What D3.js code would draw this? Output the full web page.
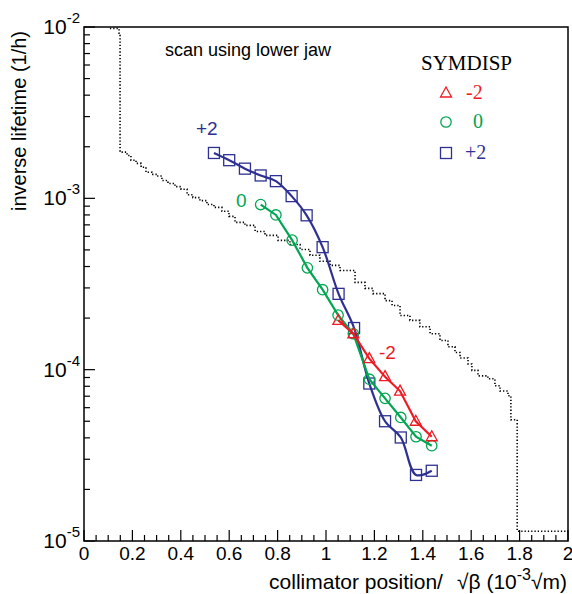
<!DOCTYPE html>
<html>
<head>
<meta charset="utf-8">
<script src="https://cdn.jsdelivr.net/npm/d3@7"></script>
<style>
  body { margin: 0; background: #fff; }
  svg text { font-family: "Liberation Sans", Arial, sans-serif; }
  svg text.serif { font-family: "Liberation Serif", "Times New Roman", serif; }
</style>
</head>
<body>
<div id="chart"></div>
<script>
// collimator position / sqrt(beta), 10^-3 sqrt(m)
const posMinus2 = [1.051, 1.113, 1.179, 1.244, 1.306, 1.371, 1.437];
const lifeMinus2 = [1.94e-4, 1.62e-4, 1.16e-4, 9.1e-5, 7.5e-5, 5.0e-5, 4.06e-5];

const posZero = [0.730, 0.793, 0.860, 0.923, 0.986, 1.050, 1.113, 1.179, 1.244, 1.309, 1.372, 1.437];
const lifeZero = [9.2e-4, 8.0e-4, 5.7e-4, 3.93e-4, 2.93e-4, 2.08e-4, 1.62e-4, 8.8e-5, 6.8e-5, 5.26e-5, 4.06e-5, 3.6e-5];

const posPlus2 = [0.537, 0.600, 0.665, 0.730, 0.793, 0.858, 0.920, 0.986, 1.052, 1.116, 1.179, 1.244, 1.309, 1.372, 1.437];
const lifePlus2 = [1.84e-3, 1.67e-3, 1.49e-3, 1.36e-3, 1.26e-3, 1.03e-3, 7.96e-4, 5.19e-4, 2.77e-4, 1.75e-4, 8.3e-5, 5.0e-5, 4.02e-5, 2.43e-5, 2.57e-5];

// dotted reference (step histogram)
const refPos = [0.107, 0.145, 0.149, 0.178, 0.194, 0.215, 0.236, 0.256, 0.281, 0.302, 0.322, 0.347,
  0.376, 0.401, 0.426, 0.450, 0.479, 0.508, 0.537, 0.570, 0.599, 0.624, 0.665, 0.707, 0.748,
  0.802, 0.851, 0.893, 0.934, 0.975, 1.017, 1.058, 1.120, 1.161, 1.194, 1.244, 1.273, 1.306,
  1.347, 1.388, 1.430, 1.471, 1.504, 1.533, 1.554, 1.587, 1.603, 1.628, 1.669, 1.698, 1.719,
  1.752, 1.764, 1.790, 2.0];
const refLife = [9.8e-3, 9.2e-3, 1.86e-3, 1.78e-3, 1.67e-3, 1.60e-3, 1.52e-3, 1.42e-3, 1.38e-3, 1.35e-3, 1.27e-3, 1.22e-3,
  1.17e-3, 1.13e-3, 1.05e-3, 1.01e-3, 9.7e-4, 9.2e-4, 8.85e-4, 8.4e-4, 7.85e-4, 7.24e-4, 6.95e-4, 6.41e-4, 6.08e-4,
  5.68e-4, 5.38e-4, 5.03e-4, 4.65e-4, 4.29e-4, 4.06e-4, 3.79e-4, 3.23e-4, 2.98e-4, 2.78e-4, 2.53e-4, 2.37e-4, 2.07e-4,
  1.94e-4, 1.78e-4, 1.62e-4, 1.48e-4, 1.36e-4, 1.26e-4, 1.17e-4, 1.08e-4, 9.9e-5, 9.2e-5, 8.85e-5, 8.05e-5, 7.5e-5,
  7.05e-5, 5.1e-5, 1.14e-5, 1.14e-5];

const xTicks = [0, 0.2, 0.4, 0.6, 0.8, 1, 1.2, 1.4, 1.6, 1.8, 2];
const xTickLabels = ["0", "0.2", "0.4", "0.6", "0.8", "1", "1.2", "1.4", "1.6", "1.8", "2"];
const yDecades = [1e-5, 1e-4, 1e-3, 1e-2];
const yExponents = ["-5", "-4", "-3", "-2"];

const W = 572, H = 594;
const mLeft = 84, mRight = 568, mTop = 27, mBottom = 541;

const svg = d3.select("#chart").append("svg")
  .attr("width", W).attr("height", H);

const x = d3.scaleLinear().domain([0, 2]).range([mLeft, mRight]);
const y = d3.scaleLog().domain([1e-5, 1e-2]).range([mBottom, mTop]);

// frame
svg.append("rect")
  .attr("x", mLeft).attr("y", mTop)
  .attr("width", mRight - mLeft).attr("height", mBottom - mTop)
  .attr("fill", "none").attr("stroke", "#000").attr("stroke-width", 1.5);

// x ticks (inward)
const xMinor = d3.range(0, 2.001, 0.05);
svg.append("g").selectAll("line").data(xMinor).join("line")
  .attr("x1", d => x(d)).attr("x2", d => x(d))
  .attr("y1", mBottom)
  .attr("y2", d => Math.abs(d * 5 - Math.round(d * 5)) < 1e-6 ? mBottom - 11 : mBottom - 6)
  .attr("stroke", "#000").attr("stroke-width", 1.2);

svg.append("g").selectAll("text").data(xTicks).join("text")
  .attr("x", d => x(d)).attr("y", 560)
  .attr("text-anchor", "middle")
  .attr("font-size", 19)
  .text((d, i) => xTickLabels[i]);

// y ticks (inward)
const yMinor = [];
yDecades.slice(0, 3).forEach(dec => {
  for (let k = 2; k <= 9; k++) yMinor.push(dec * k);
});
svg.append("g").selectAll("line").data(yMinor).join("line")
  .attr("x1", mLeft).attr("x2", mLeft + 6)
  .attr("y1", d => y(d)).attr("y2", d => y(d))
  .attr("stroke", "#000").attr("stroke-width", 1.2);
svg.append("g").selectAll("line").data(yDecades).join("line")
  .attr("x1", mLeft).attr("x2", mLeft + 11)
  .attr("y1", d => y(d)).attr("y2", d => y(d))
  .attr("stroke", "#000").attr("stroke-width", 1.2);

const yLab = svg.append("g").selectAll("text").data(yDecades).join("text")
  .attr("x", 80).attr("y", d => y(d) + 7)
  .attr("text-anchor", "end")
  .attr("font-size", 21);
yLab.append("tspan").text("10");
yLab.append("tspan")
  .attr("dy", -11).attr("font-size", 15)
  .text((d, i) => yExponents[i]);

// axis titles
svg.append("text")
  .attr("transform", `translate(26, 121) rotate(-90)`)
  .attr("text-anchor", "middle")
  .attr("font-size", 20)
  .text("inverse lifetime (1/h)");

const xt = svg.append("text")
  .attr("x", 567).attr("y", 589)
  .attr("text-anchor", "end")
  .attr("font-size", 21);
xt.append("tspan").text("collimator position/");
xt.append("tspan").attr("dx", 14).text("\u221A\u03B2 (10");
xt.append("tspan").attr("dy", -9).attr("font-size", 16).text("-3");
xt.append("tspan").attr("dy", 9).text("\u221Am)");

// dotted reference curve
svg.append("path")
  .attr("d", d3.line().curve(d3.curveStepAfter)
    .x((d, i) => x(refPos[i])).y(d => y(d))(refLife))
  .attr("fill", "none").attr("stroke", "#000")
  .attr("stroke-width", 1.6).attr("stroke-dasharray", "1.3,2");

// series
const series = [
  { pos: posPlus2, life: lifePlus2, color: "#2e3192", shape: "square", curve: d3.curveCatmullRom },
  { pos: posZero, life: lifeZero, color: "#00a651", shape: "circle", curve: d3.curveLinear },
  { pos: posMinus2, life: lifeMinus2, color: "#ed1c24", shape: "triangle", curve: d3.curveLinear }
];

function marker(g, shape, cx, cy, color) {
  if (shape === "square") {
    g.append("rect").attr("x", cx - 5.5).attr("y", cy - 5.5).attr("width", 11).attr("height", 11)
      .attr("fill", "none").attr("stroke", color).attr("stroke-width", 1.3);
  } else if (shape === "circle") {
    g.append("circle").attr("cx", cx).attr("cy", cy).attr("r", 5.2)
      .attr("fill", "none").attr("stroke", color).attr("stroke-width", 1.3);
  } else {
    g.append("path")
      .attr("d", `M${cx},${cy - 6}L${cx + 5.5},${cy + 4}L${cx - 5.5},${cy + 4}Z`)
      .attr("fill", "none").attr("stroke", color).attr("stroke-width", 1.3);
  }
}

series.forEach(s => {
  svg.append("path")
    .attr("d", d3.line().curve(s.curve)
      .x((d, i) => x(s.pos[i])).y(d => y(d))(s.life))
    .attr("fill", "none").attr("stroke", s.color).attr("stroke-width", 2.2);
  const g = svg.append("g");
  s.life.forEach((v, i) => marker(g, s.shape, x(s.pos[i]), y(v), s.color));
});

// in-plot labels
svg.append("text").attr("x", 196).attr("y", 135).attr("font-size", 19)
  .attr("fill", "#2e3192").text("+2");
svg.append("text").attr("x", 236).attr("y", 207).attr("font-size", 19)
  .attr("fill", "#00a651").text("0");
svg.append("text").attr("x", 379).attr("y", 359).attr("font-size", 19)
  .attr("fill", "#ed1c24").text("-2");

svg.append("text").attr("x", 165).attr("y", 56).attr("font-size", 18)
  .text("scan using lower jaw");

// legend
svg.append("text").attr("class", "serif").attr("x", 421).attr("y", 70)
  .attr("font-size", 21).text("SYMDISP");
const leg = svg.append("g");
const legRows = [
  { shape: "triangle", color: "#ed1c24", label: "-2", cy: 93, tx: 466 },
  { shape: "circle", color: "#00a651", label: "0", cy: 122, tx: 473 },
  { shape: "square", color: "#2e3192", label: "+2", cy: 153, tx: 465 }
];
legRows.forEach(r => {
  marker(leg, r.shape, 446, r.cy, r.color);
  leg.append("text").attr("class", "serif")
    .attr("x", r.tx).attr("y", r.cy + 6)
    .attr("font-size", 20).attr("fill", r.color).text(r.label);
});
</script>
</body>
</html>
